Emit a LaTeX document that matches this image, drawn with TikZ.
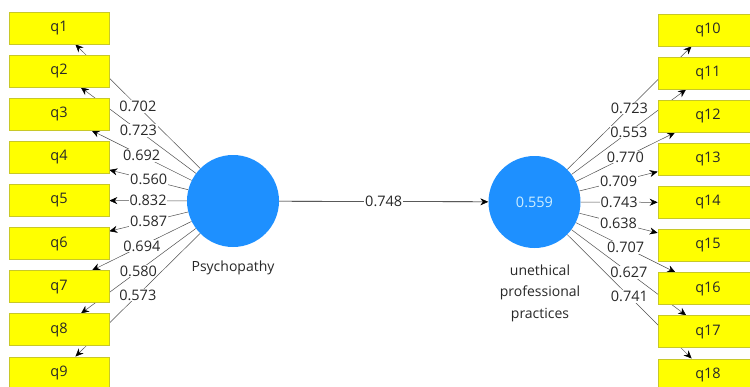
\documentclass[tikz,border=0pt]{standalone}
\usepackage{fontspec}
\setmainfont{Open Sans}
\usetikzlibrary{arrows.meta,backgrounds}
\definecolor{boxyellow}{RGB}{255,255,0}
\definecolor{boxedge}{RGB}{200,200,40}
\definecolor{lvblue}{RGB}{30,144,255}
\definecolor{txtgray}{RGB}{40,40,40}
\definecolor{rsq}{RGB}{205,238,255}
\definecolor{spoke}{RGB}{80,80,80}
\begin{document}
\begin{tikzpicture}[x=1pt,y=-1pt,
  ind/.style={draw=boxedge,fill=boxyellow,minimum width=100pt,minimum height=32pt,inner sep=0pt,
    font=\fontsize{14.5}{16}\selectfont,text=txtgray,line width=0.6pt},
  lv/.style={circle,fill=lvblue,minimum size=92pt,inner sep=0pt},
  load/.style={draw=spoke,line width=0.5pt,-{Stealth[length=8pt,width=7pt,black]}},
  wt/.style={fill=white,inner sep=0.8pt,font=\fontsize{14.5}{16}\selectfont,text=txtgray},
  lvname/.style={font=\fontsize{14}{21.5}\selectfont,text=txtgray,align=center}]
\useasboundingbox (0,0) rectangle (750,386);
\node[lv] (psy) at (233,201) {};
\node[lv,text=rsq,font=\fontsize{14.5}{16}\selectfont] (unp) at (534.5,202) {0.559};
\node[lvname] (psyl) at (233,268) {Psychopathy};
\node[lvname] (unpl) at (540,293) {unethical\\professional\\practices};
\foreach \i in {1,...,9} \node[ind] (q\i) at (59,{28+43.1*(\i-1)}) {q\i};
\foreach \i in {10,...,18} \node[ind] (q\i) at (708,{30+43.1*(\i-10)}) {q\i};
\begin{pgfonlayer}{background}
\fill[white] (0,0) rectangle (750,386);
\foreach \i/\v in {1/0.702,2/0.723,3/0.692,4/0.560,5/0.832,6/0.587,7/0.694,8/0.580,9/0.573}
  \draw[load] (psy) -- (q\i) node[wt,midway] {\v};
\foreach \i/\v in {10/0.723,11/0.553,12/0.770,13/0.709,14/0.743,15/0.638,16/0.707,17/0.627,18/0.741}
  \draw[load] (unp) -- (q\i) node[wt,midway] {\v};
\draw[line width=0.6pt,black,-{Stealth[length=8pt,width=7pt]}] (psy) -- (unp) node[wt,midway] {0.748};
\end{pgfonlayer}
\end{tikzpicture}
\end{document}
